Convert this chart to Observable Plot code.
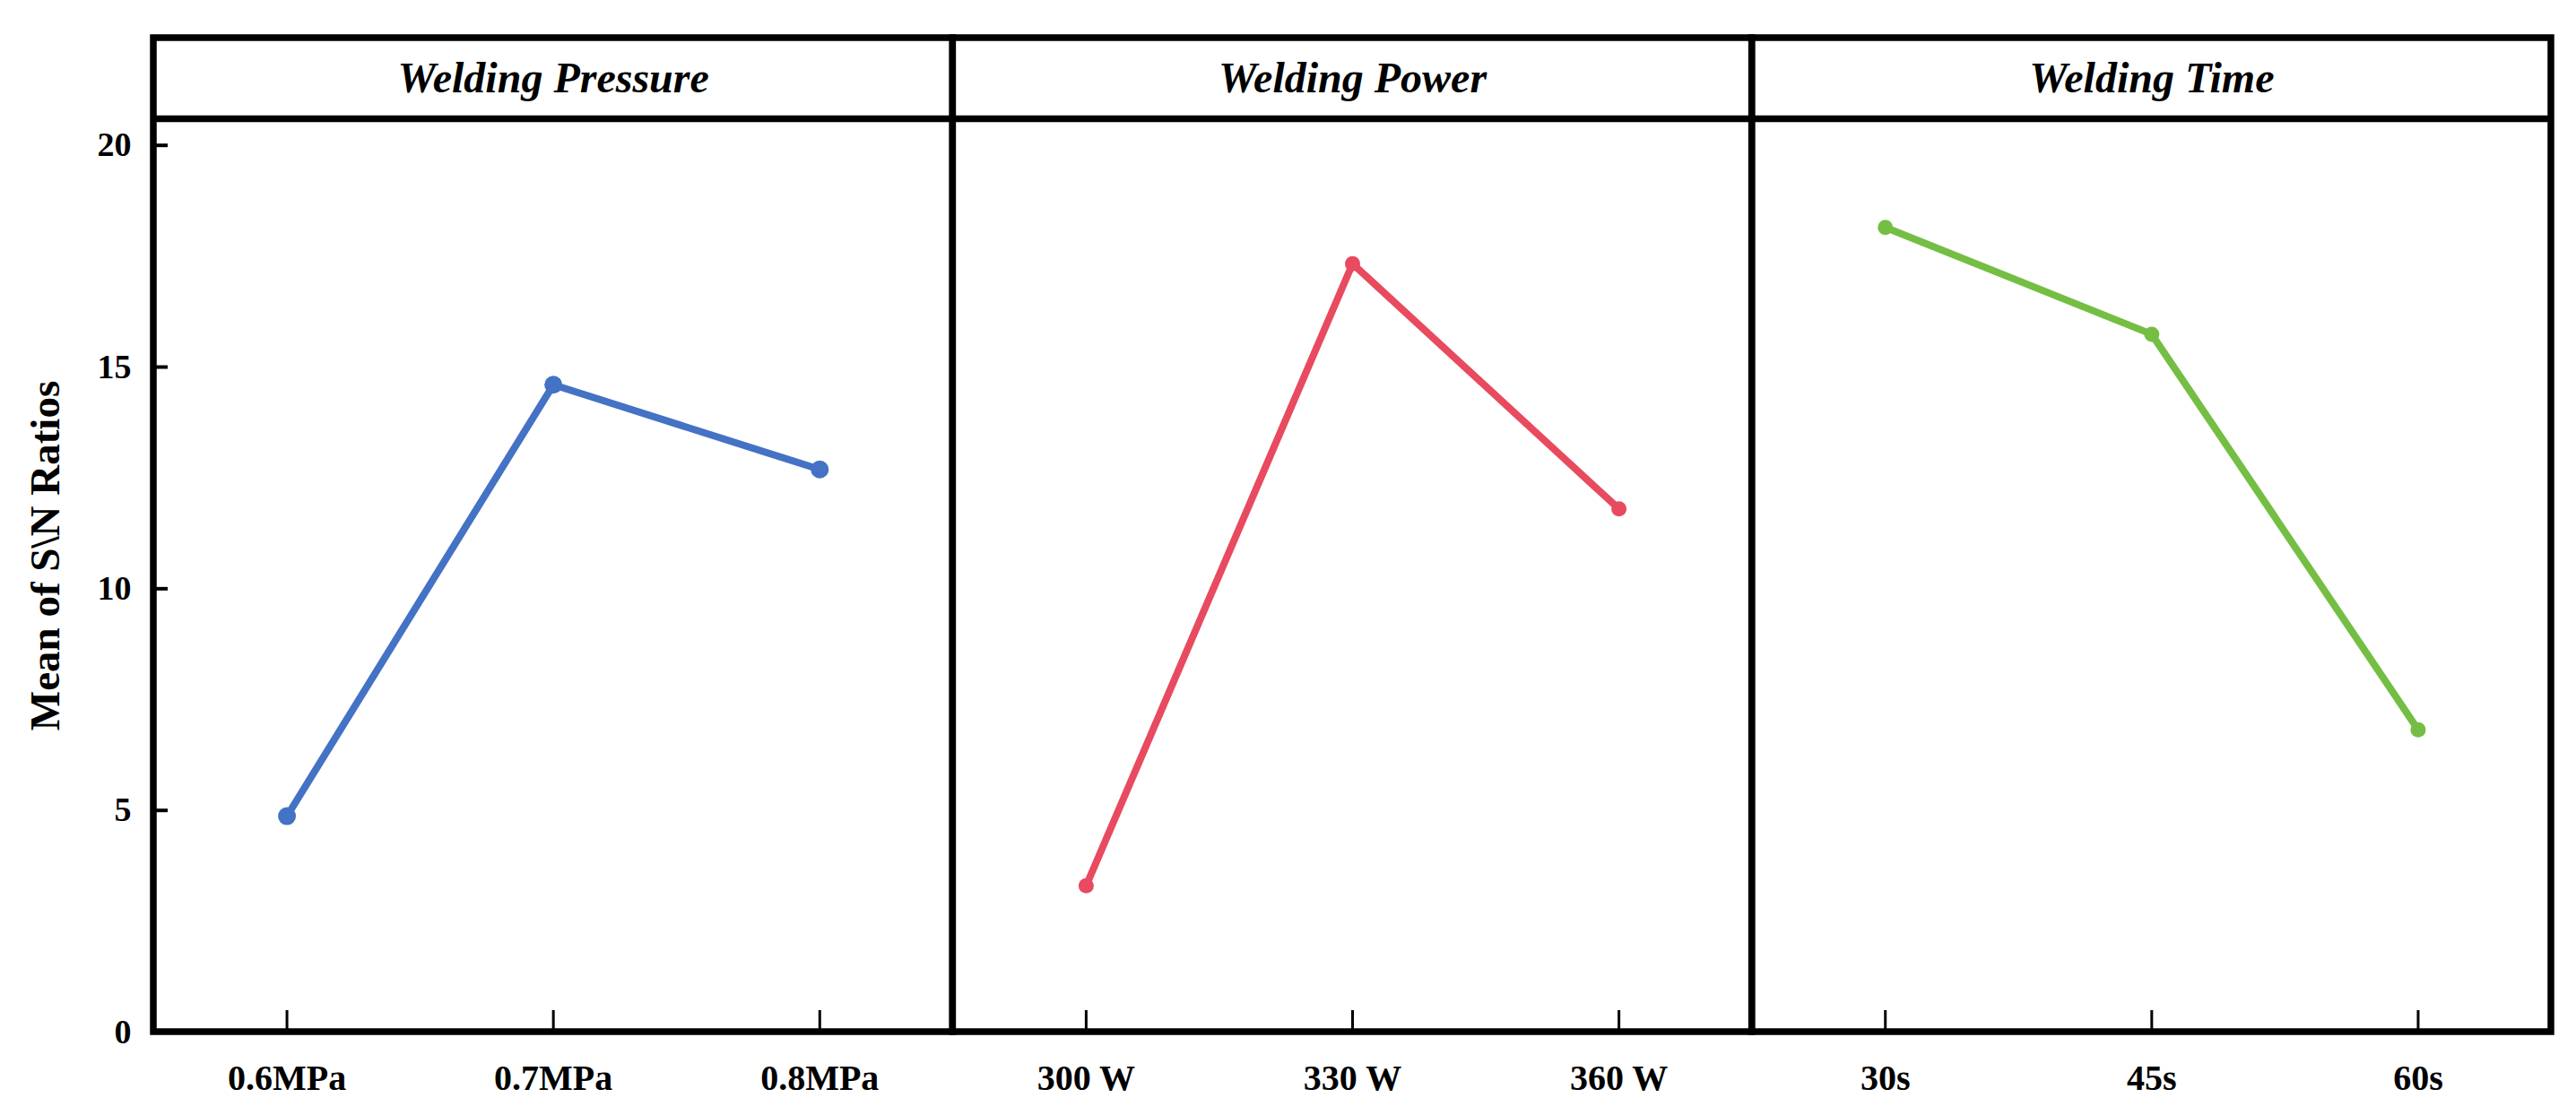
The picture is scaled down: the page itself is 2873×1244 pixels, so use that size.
<!DOCTYPE html>
<html>
<head>
<meta charset="utf-8">
<script src="https://cdn.jsdelivr.net/npm/d3@7"></script>
<script src="https://cdn.jsdelivr.net/npm/@observablehq/plot@0.6"></script>
<style>
  html, body { margin: 0; padding: 0; background: #fff; }
  #chart svg { display: block; }
</style>
</head>
<body>
<div id="chart"></div>
<script>
// ---- data ----
const factors = ["Welding Pressure", "Welding Power", "Welding Time"];
const pressureLevels = ["0.6MPa", "0.7MPa", "0.8MPa"];
const powerLevels = ["300 W", "330 W", "360 W"];
const timeLevels = ["30s", "45s", "60s"];
const pressureSN = [4.87, 14.6, 12.69];
const powerSN = [3.3, 17.33, 11.8];
const timeSN = [18.15, 15.74, 6.82];
const yTicks = [0, 5, 10, 15, 20];
const yLabel = "Mean of S\\N Ratios";
const colors = ["#4472C4", "#E84A5F", "#74BE44"];
const dotRadius = [10, 8.5, 8.5];

// ---- build table ----
const levelGroups = [pressureLevels, powerLevels, timeLevels];
const valueGroups = [pressureSN, powerSN, timeSN];
const allLevels = levelGroups.flat();
const rows = [];
levelGroups.forEach((lv, g) => lv.forEach((l, j) => rows.push({
  factor: factors[g], level: l, idx: g * 3 + j, value: valueGroups[g][j], r: dotRadius[g]
})));
const panels = factors.map((f, g) => ({factor: f, x1: g * 3 - 0.5, x2: g * 3 + 2.5, xc: g * 3 + 1}));

// ---- layout ----
const W = 2873, H = 1244;
const mL = 171, mR = 28, mT = 132, mB = 93;
const yMax = 20.6;
const pxPerY = (H - mT - mB) / yMax;
const stripPx = 90;
const stripTop = yMax + stripPx / pxPerY;
const stripMid = yMax + (stripPx / 2) / pxPerY;
const font = "'Liberation Serif', 'Times New Roman', serif";
const frameW = 7.5;

const chart = Plot.plot({
  width: W, height: H,
  marginLeft: mL, marginRight: mR, marginTop: mT, marginBottom: mB,
  style: {fontFamily: font, background: "#fff", color: "#000"},
  x: {type: "linear", domain: [-0.5, allLevels.length - 0.5]},
  y: {domain: [0, yMax]},
  r: {type: "identity"},
  color: {domain: factors, range: colors},
  marks: [
    Plot.axisY(yTicks, {tickSize: -16, tickPadding: 41, strokeWidth: 4, fontSize: 38, fontWeight: "bold", label: null, tickFormat: d => d}),
    Plot.axisX(allLevels.map((_, i) => i), {anchor: "bottom", tickSize: -24, tickPadding: 60, strokeWidth: 3, fontSize: 40, fontWeight: "bold", label: null, tickFormat: i => allLevels[i]}),
    Plot.line(rows, {x: "idx", y: "value", z: "factor", stroke: "factor", strokeWidth: 8}),
    Plot.dot(rows, {x: "idx", y: "value", fill: "factor", r: "r", stroke: "none"}),
    Plot.rect(panels, {x1: "x1", x2: "x2", y1: 0, y2: stripTop, fill: "none", stroke: "#000", strokeWidth: frameW}),
    Plot.ruleY([yMax], {stroke: "#000", strokeWidth: frameW}),
    Plot.text(panels, {x: "xc", y: stripMid, text: "factor", fontSize: 48, fontWeight: "bold", fontStyle: "italic", lineAnchor: "middle", fill: "#000"}),
    Plot.text([yLabel], {frameAnchor: "left", textAnchor: "middle", dx: -121, dy: -22, rotate: -90, fontSize: 47, fontWeight: "bold", lineAnchor: "middle", fill: "#000"})
  ]
});
document.getElementById("chart").append(chart);
</script>
</body>
</html>
